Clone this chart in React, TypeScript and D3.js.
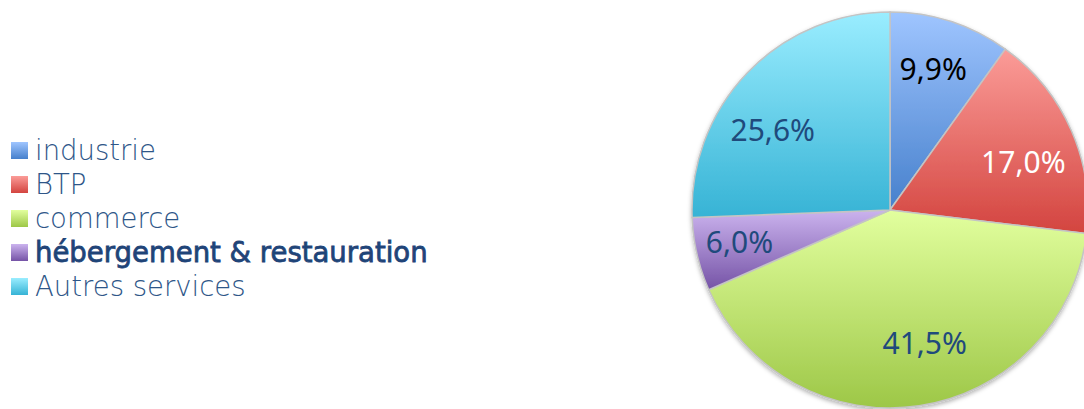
import React from "react";
import * as d3 from "d3";

const categories = ["industrie", "BTP", "commerce", "hébergement & restauration", "Autres services"];
const values = [9.9, 17.0, 41.5, 6.0, 25.6];
const labels = ["9,9%", "17,0%", "41,5%", "6,0%", "25,6%"];

const topColors = ["#9fc5ff", "#fb9c98", "#e2ff9e", "#cbb3ee", "#9aedff"];
const bottomColors = ["#4680cc", "#d3443f", "#9dc747", "#7553a6", "#36b3d5"];
const labelColors = ["#000000", "#ffffff", "#1f4a7c", "#1f4a7c", "#1f4a7c"];
const labelNudge: [number, number][] = [[-4, 6], [-8, 14], [12, -20], [0, -3], [-6, 27]];
const legendBold = [false, false, false, true, false];

const W = 1084, H = 409;
const cx = 890, cy = 210, R = 198;

export default function App() {
  const pie = d3.pie<number>().sort(null).value((d) => d).startAngle(0).endAngle(2 * Math.PI);
  const arcs = pie(values);
  const arc = d3.arc<d3.PieArcDatum<number>>().innerRadius(0).outerRadius(R);
  const labelArc = d3.arc<d3.PieArcDatum<number>>().innerRadius(R * 0.78).outerRadius(R * 0.78);
  const legendY = d3.scaleBand<number>().domain(d3.range(categories.length)).range([133, 303]);

  return (
    <svg width={W} height={H} style={{ position: "absolute", left: 0, top: 0 }}>
      <defs>
        {arcs.map((a, i) => (
          <linearGradient key={i} id={`g${i}`} x1="0" y1="0" x2="0" y2="1">
            <stop offset="0%" stopColor={topColors[i]} />
            <stop offset="100%" stopColor={bottomColors[i]} />
          </linearGradient>
        ))}
        {categories.map((c, i) => (
          <linearGradient key={c} id={`lg${i}`} x1="0" y1="0" x2="0" y2="1">
            <stop offset="0%" stopColor={topColors[i]} />
            <stop offset="100%" stopColor={bottomColors[i]} />
          </linearGradient>
        ))}
        <filter id="sh" x="-10%" y="-10%" width="120%" height="125%">
          <feDropShadow dx="0" dy="2" stdDeviation="2" floodColor="#000" floodOpacity="0.3" />
        </filter>
      </defs>
      <g transform={`translate(${cx},${cy})`}>
        <g filter="url(#sh)">
          {arcs.map((a, i) => (
            <path key={i} d={arc(a) || ""} fill={`url(#g${i})`} stroke="#c4c4c4" strokeWidth={1.5} />
          ))}
        </g>
        {arcs.map((a, i) => {
          const [x, y] = labelArc.centroid(a);
          return (
            <text
              key={i}
              x={x + labelNudge[i][0]}
              y={y + labelNudge[i][1]}
              textAnchor="middle"
              dominantBaseline="central"
              fontFamily="'Noto Sans', sans-serif"
              fontSize={30}
              fill={labelColors[i]}
            >
              {labels[i]}
            </text>
          );
        })}
      </g>
      <g>
        {categories.map((c, i) => {
          const y = legendY(i)! + legendY.bandwidth() / 2;
          return (
            <g key={c}>
              <rect x={11} y={y - 8} width={17} height={17} fill={`url(#lg${i})`} />
              <text
                x={35}
                y={y}
                dominantBaseline="central"
                fontFamily="'DejaVu Sans', sans-serif"
                fontWeight={legendBold[i] ? 400 : 200}
                fontSize={27.5}
                fill={legendBold[i] ? "#1f4478" : "#2e5688"}
                stroke={legendBold[i] ? "#1f4478" : "none"}
                strokeWidth={legendBold[i] ? 0.8 : 0}
              >
                {c}
              </text>
            </g>
          );
        })}
      </g>
    </svg>
  );
}
